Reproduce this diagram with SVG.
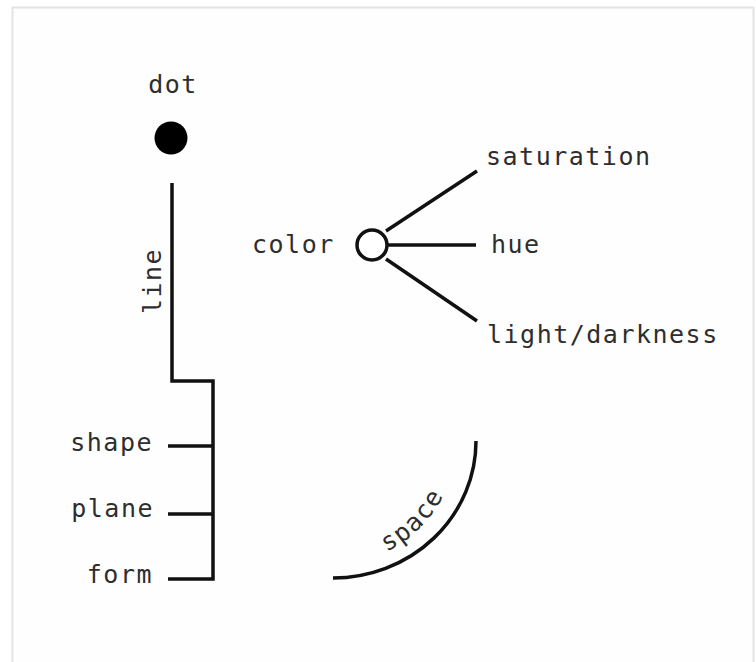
<svg xmlns="http://www.w3.org/2000/svg" xmlns:xlink="http://www.w3.org/1999/xlink" width="756" height="662" viewBox="0 0 756 662">
  <style>
    .t { font-family: "DejaVu Sans Mono", "Liberation Mono", monospace; font-size: 25px; fill: #2e2e2e; letter-spacing: 1.5px; }
    .ln { stroke: #111111; stroke-width: 3.5; fill: none; }
  </style>
  <defs>
    <path id="spacePath" d="M333,564 A123,123 0 0 0 456,441"/>
  </defs>
  <rect x="0" y="0" width="756" height="662" fill="#ffffff"/>
  <rect x="12.5" y="7.5" width="741" height="660" fill="#fefefe" stroke="#e4e4e4" stroke-width="2"/>

  <g id="connectors">
    <polyline class="ln" points="172,183 172,381 213,381 213,579 168,579"/>
    <line class="ln" x1="168" y1="446" x2="213" y2="446"/>
    <line class="ln" x1="168" y1="514" x2="213" y2="514"/>
    <line class="ln" x1="386" y1="231" x2="477" y2="171"/>
    <line class="ln" x1="387" y1="245" x2="476" y2="245"/>
    <line class="ln" x1="386" y1="259" x2="477" y2="321"/>
    <path class="ln" d="M333,578 A143,137 0 0 0 476,441"/>
  </g>

  <g id="dot">
    <circle cx="171" cy="138" r="16.5" fill="#000000"/>
    <text class="t" x="173" y="93" text-anchor="middle">dot</text>
  </g>
  <g id="line">
    <text class="t" transform="translate(161,281) rotate(-90)" text-anchor="middle">line</text>
  </g>
  <g id="shape">
    <text class="t" x="153" y="451" text-anchor="end">shape</text>
  </g>
  <g id="plane">
    <text class="t" x="154" y="517" text-anchor="end">plane</text>
  </g>
  <g id="form">
    <text class="t" x="153" y="583" text-anchor="end">form</text>
  </g>
  <g id="color">
    <circle cx="372" cy="245" r="15" fill="#ffffff" stroke="#111111" stroke-width="3.5"/>
    <text class="t" x="252" y="253">color</text>
  </g>
  <g id="saturation">
    <text class="t" x="486" y="165">saturation</text>
  </g>
  <g id="hue">
    <text class="t" x="491" y="253">hue</text>
  </g>
  <g id="lightdarkness">
    <text class="t" x="487" y="343">light/darkness</text>
  </g>
  <g id="space">
    <text class="t"><textPath xlink:href="#spacePath" href="#spacePath" startOffset="50%" text-anchor="middle">space</textPath></text>
  </g>
</svg>
